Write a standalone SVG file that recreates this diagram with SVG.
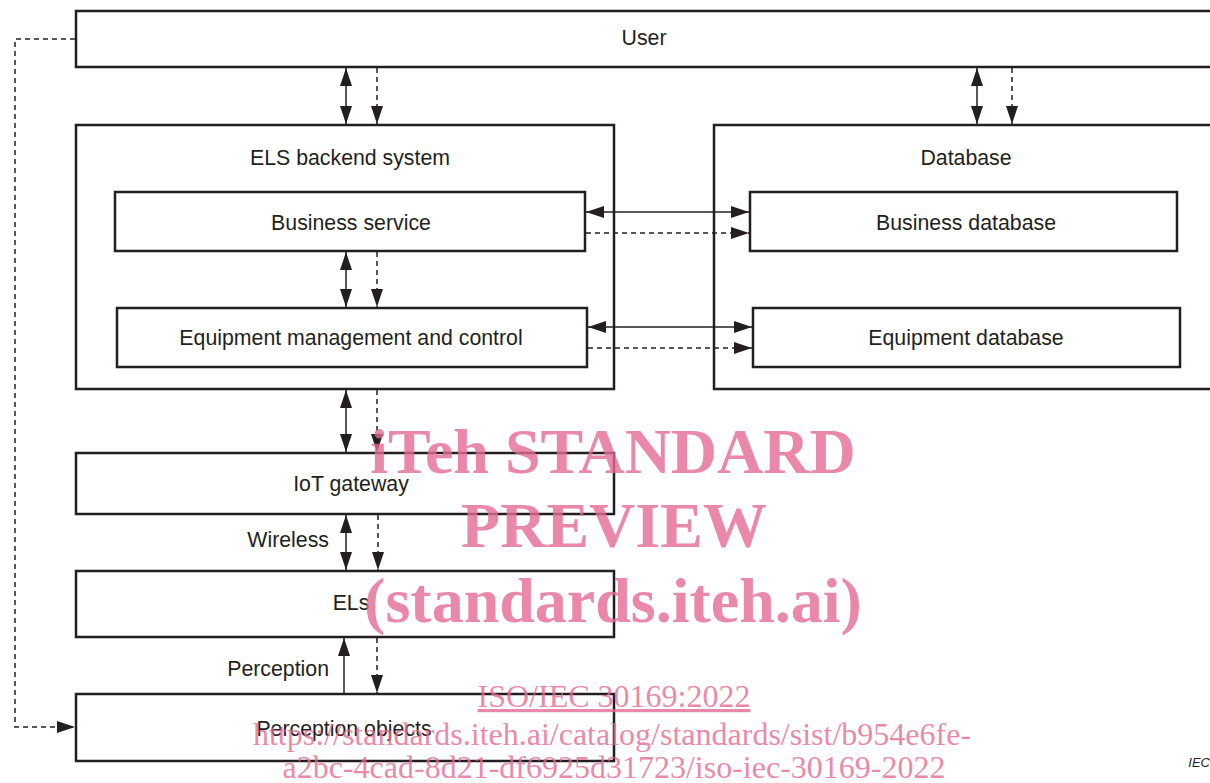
<svg xmlns="http://www.w3.org/2000/svg" width="1210" height="783" viewBox="0 0 1210 783">
<style>
.box{fill:#fff;stroke:#231f20;stroke-width:2.5}
.t{font-family:"Liberation Sans",Arial,sans-serif;font-size:21.3px;fill:#231f20;text-anchor:middle}
.tr{text-anchor:end}
.c{fill:none;stroke:#231f20;stroke-width:1.5}
.d{stroke-dasharray:5,4}
.wm{font-family:"Liberation Serif","Times New Roman",serif;fill:#e46a93;fill-opacity:0.8;text-anchor:middle}
</style>
<defs>
<marker id="ah" markerUnits="userSpaceOnUse" markerWidth="18" markerHeight="12" refX="18" refY="6" orient="auto-start-reverse">
<path d="M0,0 L18,6 L0,12 z" fill="#231f20"/>
</marker>
</defs>
<rect width="1210" height="783" fill="#fff"/>
<g id="user"><rect class="box" x="76" y="11" width="1140" height="56"/><text class="t" x="644" y="45">User</text></g>
<g id="els-backend"><rect class="box" x="76" y="125" width="538" height="264"/><text class="t" x="350" y="165">ELS backend system</text></g>
<g id="database"><rect class="box" x="714" y="125" width="502" height="264"/><text class="t" x="966" y="165">Database</text></g>
<g id="business-service"><rect class="box" x="115" y="192" width="470" height="59"/><text class="t" x="351" y="230">Business service</text></g>
<g id="equipment-mgmt"><rect class="box" x="117" y="308" width="470" height="59"/><text class="t" x="351" y="345">Equipment management and control</text></g>
<g id="business-db"><rect class="box" x="750" y="192" width="427" height="59"/><text class="t" x="966" y="230">Business database</text></g>
<g id="equipment-db"><rect class="box" x="753" y="308" width="427" height="59"/><text class="t" x="966" y="345">Equipment database</text></g>
<g id="iot-gateway"><rect class="box" x="76" y="453" width="538" height="61"/><text class="t" x="351" y="491">IoT gateway</text></g>
<g id="els"><rect class="box" x="76" y="571" width="538" height="66"/><text class="t" x="351" y="610">ELs</text></g>
<g id="perception-objects"><rect class="box" x="76" y="694" width="538" height="67"/><text class="t" x="344" y="736">Perception objects</text></g>
<g id="connectors">
<line class="c" x1="346" y1="68" x2="346" y2="124" marker-start="url(#ah)" marker-end="url(#ah)"/>
<line class="c d" x1="377" y1="68" x2="377" y2="124" marker-end="url(#ah)"/>
<line class="c" x1="977" y1="68" x2="977" y2="124" marker-start="url(#ah)" marker-end="url(#ah)"/>
<line class="c d" x1="1012" y1="68" x2="1012" y2="124" marker-end="url(#ah)"/>
<line class="c" x1="346" y1="252" x2="346" y2="307" marker-start="url(#ah)" marker-end="url(#ah)"/>
<line class="c d" x1="377" y1="252" x2="377" y2="307" marker-end="url(#ah)"/>
<line class="c" x1="586" y1="212" x2="749" y2="212" marker-start="url(#ah)" marker-end="url(#ah)"/>
<line class="c d" x1="586" y1="233" x2="749" y2="233" marker-end="url(#ah)"/>
<line class="c" x1="588" y1="327" x2="752" y2="327" marker-start="url(#ah)" marker-end="url(#ah)"/>
<line class="c d" x1="588" y1="348" x2="752" y2="348" marker-end="url(#ah)"/>
<line class="c" x1="346" y1="390" x2="346" y2="452" marker-start="url(#ah)" marker-end="url(#ah)"/>
<line class="c d" x1="377" y1="390" x2="377" y2="452" marker-end="url(#ah)"/>
<line class="c" x1="346" y1="515" x2="346" y2="570" marker-start="url(#ah)" marker-end="url(#ah)"/>
<line class="c d" x1="378" y1="515" x2="378" y2="570" marker-end="url(#ah)"/>
<line class="c" x1="344" y1="693" x2="344" y2="638" marker-end="url(#ah)"/>
<line class="c d" x1="377" y1="638" x2="377" y2="693" marker-end="url(#ah)"/>
<polyline class="c d" points="75,39 15,39 15,727 75,727" marker-end="url(#ah)"/>
<text class="t tr" x="329" y="547">Wireless</text>
<text class="t tr" x="329" y="676">Perception</text>
</g>
<text x="1210" y="767" font-family="'Liberation Sans',Arial,sans-serif" font-size="13" font-style="italic" fill="#231f20" text-anchor="end">IEC</text>
<g id="watermark">
<text class="wm" x="613" y="473" font-size="64" font-weight="bold">iTeh STANDARD</text>
<text class="wm" x="614" y="547" font-size="64" font-weight="bold">PREVIEW</text>
<text class="wm" x="613" y="622" font-size="64" font-weight="bold">(standards.iteh.ai)</text>
<text class="wm" x="614" y="707" font-size="32" text-decoration="underline">ISO/IEC 30169:2022</text>
<text class="wm" x="612" y="745" font-size="32">https://standards.iteh.ai/catalog/standards/sist/b954e6fe-</text>
<text class="wm" x="614" y="778" font-size="32">a2bc-4cad-8d21-df6925d31723/iso-iec-30169-2022</text>
</g>
</svg>
